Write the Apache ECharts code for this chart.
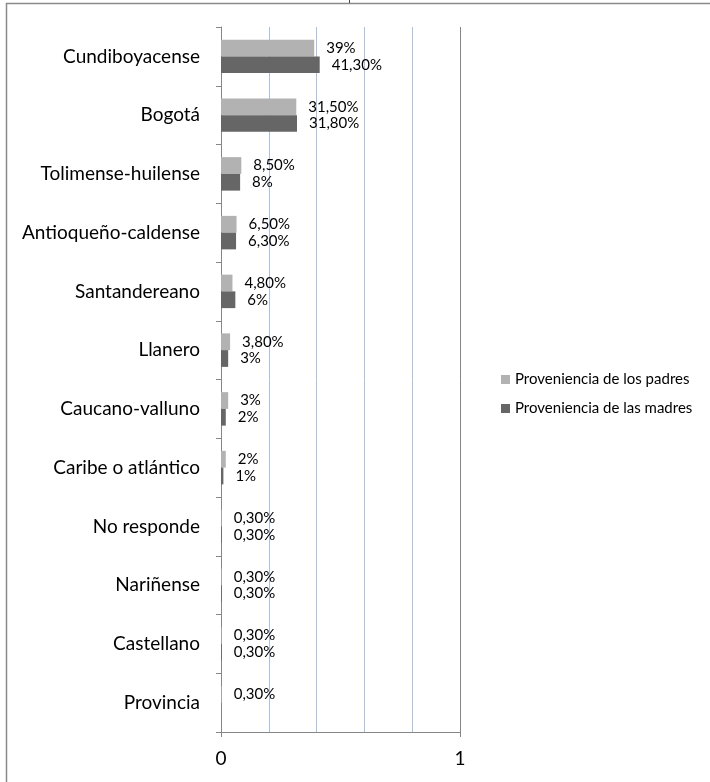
<!DOCTYPE html>
<html>
<head>
<meta charset="utf-8">
<script src="https://cdn.jsdelivr.net/npm/echarts@6/dist/echarts.min.js"></script>
<style>
  html, body { margin: 0; padding: 0; background: #fff; }
  #chart { width: 710px; height: 782px; }
</style>
</head>
<body>
<div id="chart"></div>
<script>
const categories = [
  'Cundiboyacense', 'Bogotá', 'Tolimense-huilense', 'Antioqueño-caldense',
  'Santandereano', 'Llanero', 'Caucano-valluno', 'Caribe o atlántico',
  'No responde', 'Nariñense', 'Castellano', 'Provincia'
]
const padres = [0.39, 0.315, 0.085, 0.065, 0.048, 0.038, 0.03, 0.02, 0.003, 0.003, 0.003, 0.003]
const madres = [0.413, 0.318, 0.08, 0.063, 0.06, 0.03, 0.02, 0.01, 0.003, 0.003, 0.003, null]
const seriesNames = ['Proveniencia de los padres', 'Proveniencia de las madres']

const FONT = 'Lato'

// 0.413 -> "41,30%", 0.39 -> "39%"
function pct(v) {
  const p = Math.round(v * 10000) / 100
  if (Number.isInteger(p)) return p + '%'
  return p.toFixed(2).replace('.', ',') + '%'
}

const chart = echarts.init(document.getElementById('chart'))

const barLabel = {
  show: true,
  position: 'right',
  distance: 12,
  fontFamily: FONT,
  fontSize: 15,
  color: '#000',
  formatter: p => pct(p.value)
}

const chartOptions = {
  animation: false,
  textStyle: { fontFamily: FONT },
  legend: {
    orient: 'vertical',
    left: 496,
    top: 367,
    itemWidth: 9,
    itemHeight: 9,
    itemGap: 14,
    icon: 'rect',
    textStyle: { fontFamily: FONT, fontSize: 15, color: '#000' },
    data: seriesNames
  },
  grid: {
    left: 221,
    right: 250,
    top: 27,
    bottom: 50
  },
  xAxis: [
    {
      // blue gridlines every 0.2
      type: 'value',
      position: 'bottom',
      min: 0,
      max: 1,
      interval: 0.2,
      axisLine: { show: true, lineStyle: { color: '#868686', width: 1 } },
      axisTick: { show: false },
      axisLabel: { show: false },
      splitLine: { show: true, lineStyle: { color: '#a9bfe6', width: 1 } }
    },
    {
      // labels and ticks only at 0 and 1
      type: 'value',
      position: 'bottom',
      min: 0,
      max: 1,
      interval: 1,
      axisLine: { show: false },
      axisTick: { show: true, length: 5, lineStyle: { color: '#868686' } },
      axisLabel: {
        margin: 17,
        fontFamily: FONT,
        fontSize: 19,
        color: '#000'
      },
      splitLine: { show: true, lineStyle: { color: '#868686', width: 1 } }
    }
  ],
  yAxis: {
    type: 'category',
    inverse: true,
    data: categories,
    axisLine: { show: true, lineStyle: { color: '#868686', width: 1 } },
    axisTick: { show: true, length: 5, lineStyle: { color: '#868686' } },
    axisLabel: {
      margin: 21,
      fontFamily: FONT,
      fontSize: 19,
      color: '#000'
    }
  },
  series: [
    {
      name: seriesNames[0],
      type: 'bar',
      xAxisIndex: 0,
      data: padres,
      barGap: '0%',
      barCategoryGap: '43%',
      itemStyle: { color: '#b2b2b2' },
      label: barLabel
    },
    {
      name: seriesNames[1],
      type: 'bar',
      xAxisIndex: 0,
      data: madres,
      barGap: '0%',
      barCategoryGap: '43%',
      itemStyle: { color: '#666666' },
      label: barLabel
    }
  ],
  // frame of the original picture (cropped on the right and bottom)
  graphic: [
    {
      type: 'line',
      shape: { x1: 6, y1: 3.5, x2: 710, y2: 3.5 },
      style: { stroke: '#8a8a8a', lineWidth: 1.5 }
    },
    {
      type: 'line',
      shape: { x1: 6.5, y1: 3, x2: 6.5, y2: 782 },
      style: { stroke: '#8a8a8a', lineWidth: 1.5 }
    },
    {
      type: 'line',
      shape: { x1: 349.5, y1: 0, x2: 349.5, y2: 3 },
      style: { stroke: '#444', lineWidth: 1 }
    }
  ]
}

chart.setOption(chartOptions)
</script>
</body>
</html>
